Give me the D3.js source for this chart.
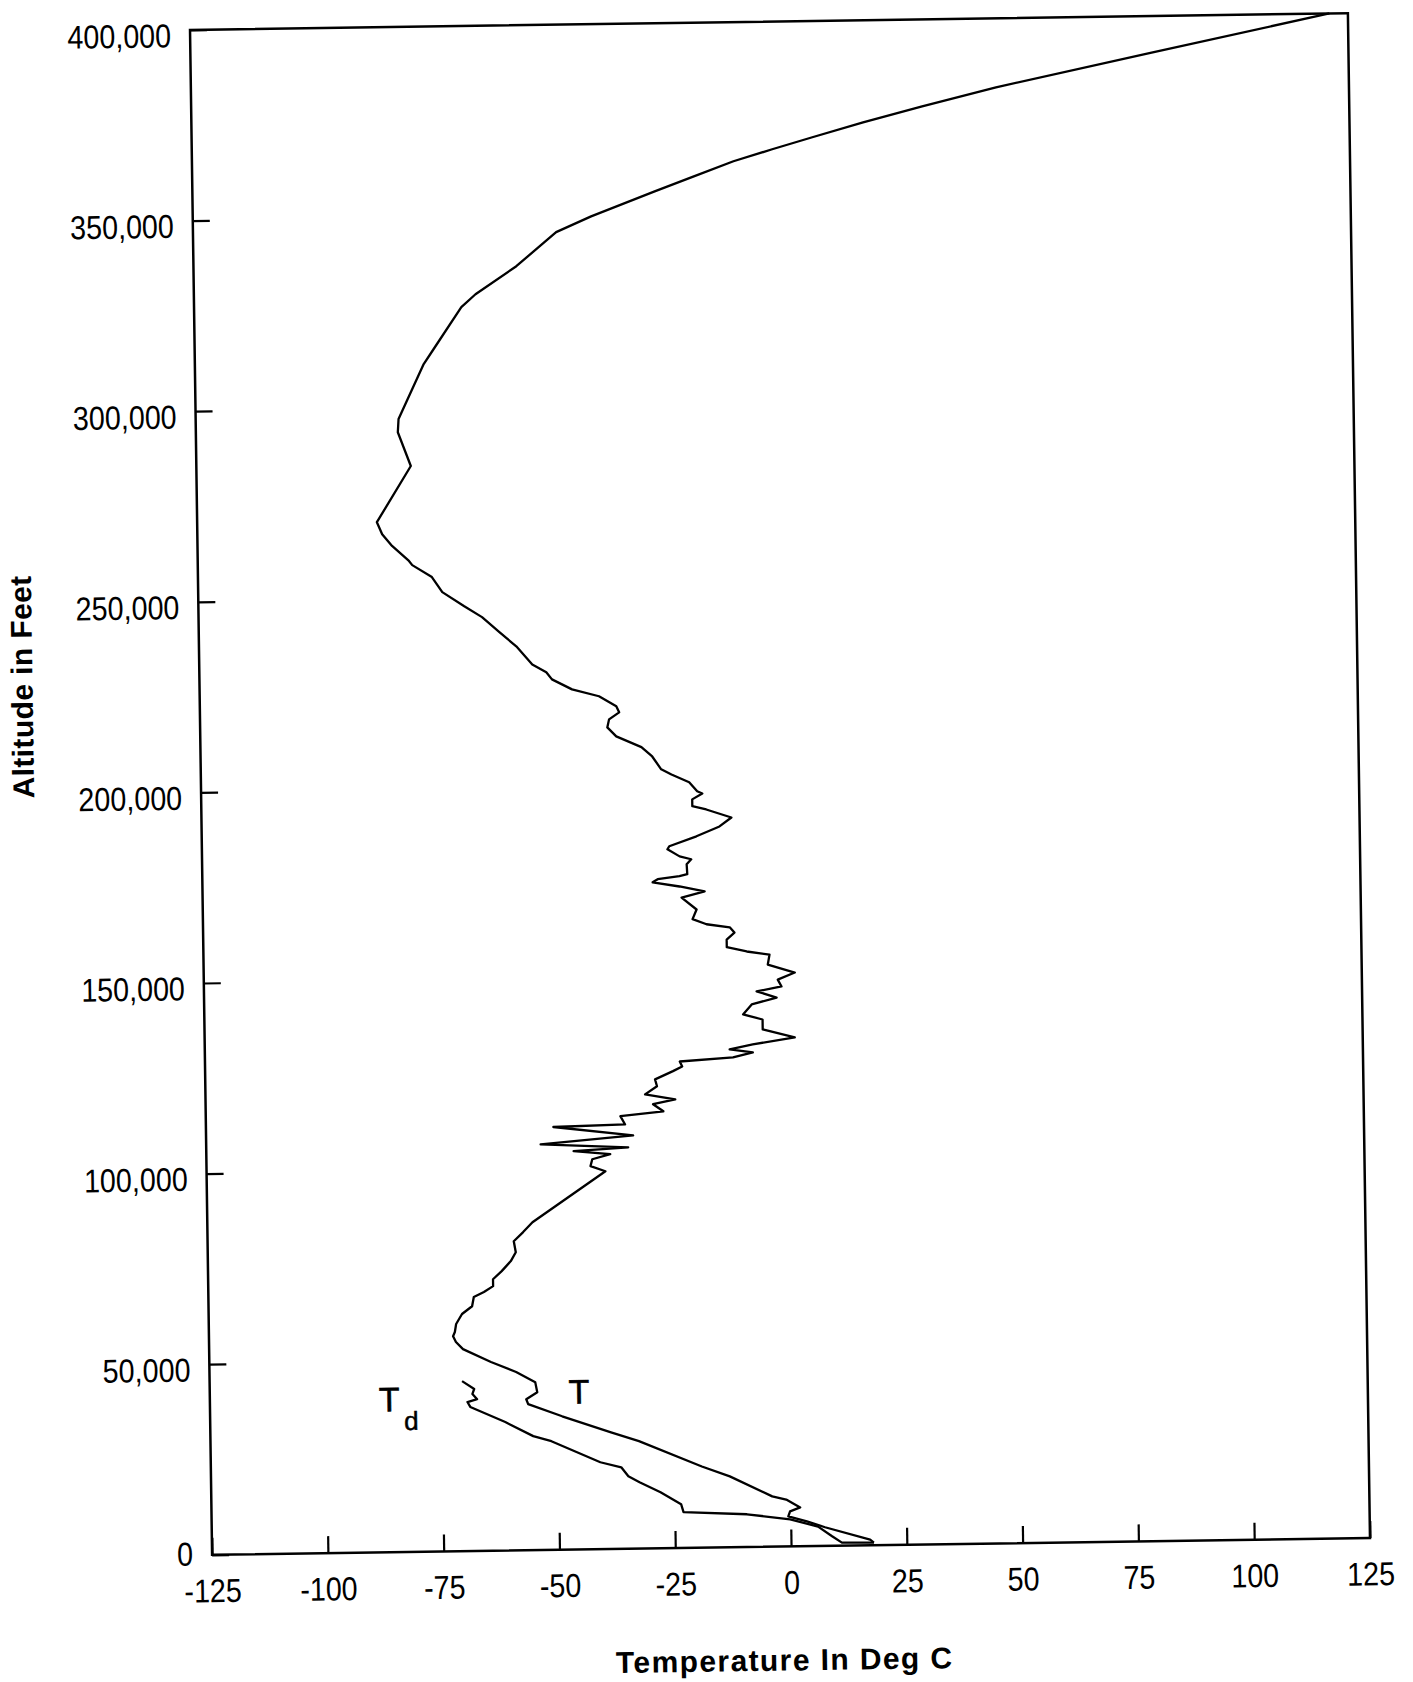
<!DOCTYPE html>
<html>
<head>
<meta charset="utf-8">
<script src="https://cdn.jsdelivr.net/npm/d3@7"></script>
<style>
  body { margin: 0; background: #fff; }
  svg { display: block; }
  .tick text { font-family: "Liberation Sans", Arial, sans-serif; font-size: 33px; fill: #000; }
  .tick line { stroke: #000; stroke-width: 2.2; }
  .title { font-family: "Liberation Sans", Arial, sans-serif; font-weight: bold; font-size: 30px; fill: #000; }
  .note { font-family: "Liberation Sans", Arial, sans-serif; fill: #000; }
</style>
</head>
<body>
<svg id="chart"></svg>
<script>
// sounding: [temperature deg C, altitude ft], surface upward
var temperature = [
  [17.9, 700], [17.1, 1500], [7.4, 4900], [3.5, 6500], [-0.5, 7900], [-0.1, 9200],
  [2.1, 10200], [-0.9, 12300], [-3.9, 13200], [-13.0, 18600], [-19.0, 21300],
  [-32.5, 28200], [-38.5, 30600], [-49.0, 35000], [-56.3, 38300], [-56.7, 39600],
  [-54.3, 41400], [-54.7, 44000], [-58.8, 46800], [-64.2, 49500], [-70.2, 53000],
  [-71.7, 54900], [-72.3, 56400], [-71.9, 57500], [-71.6, 59600], [-70.3, 62200],
  [-68.1, 64200], [-67.7, 66600], [-65.5, 67900], [-63.5, 69400], [-63.5, 71200],
  [-61.6, 73300], [-59.6, 75900], [-58.5, 78200], [-58.9, 81100], [-56.9, 83400],
  [-54.8, 86000], [-38.9, 99100], [-42.1, 100500], [-41.7, 102300], [-37.8, 103600],
  [-45.7, 104500], [-33.9, 105300], [-52.8, 106400], [-32.8, 108400], [-50.0, 110900],
  [-34.5, 111300], [-35.5, 113500], [-26.2, 114600], [-28.4, 116500], [-23.6, 117700],
  [-30.1, 119100], [-27.5, 121200], [-27.9, 123000], [-24.0, 125100], [-22.0, 126300],
  [-22.5, 127600], [-11.0, 128500], [-6.7, 129700], [-11.7, 130600], [-6.7, 131800],
  [2.4, 133500], [-4.5, 135700], [-4.5, 138300], [-8.7, 139700], [-6.8, 142300],
  [-1.4, 144000], [-5.7, 145700], [-0.3, 146900], [-1.1, 148700], [2.6, 150500],
  [-3.2, 152700], [-2.8, 155300], [-7.7, 156200], [-12.0, 157400], [-12.0, 159400],
  [-10.3, 161200], [-11.3, 162600], [-16.3, 163500], [-19.3, 164900], [-18.4, 167400],
  [-21.6, 170600], [-16.6, 172100], [-22.0, 173500], [-27.8, 174700], [-26.7, 175500],
  [-22.0, 176200], [-20.3, 176700], [-20.4, 179300], [-19.4, 180600], [-21.9, 181400],
  [-24.5, 183300], [-24.1, 184100], [-18.2, 186600], [-13.2, 189100], [-10.6, 191400],
  [-16.0, 193600], [-19.0, 194500], [-19.0, 196300], [-16.8, 197800], [-17.9, 198400],
  [-19.6, 200800], [-23.4, 202900], [-25.6, 204300], [-27.5, 207700], [-29.8, 210200],
  [-35.2, 213100], [-37.1, 215500], [-36.7, 217600], [-34.5, 219400], [-35.1, 221000],
  [-38.8, 223700], [-44.6, 225600], [-48.9, 228300], [-50.1, 230200], [-53.1, 232300],
  [-56.5, 237100], [-60.1, 240900], [-63.8, 244900], [-67.6, 247800], [-72.3, 251600],
  [-74.5, 255600], [-78.7, 258800], [-79.4, 259900], [-83.0, 263900], [-85.1, 267000],
  [-86.2, 270200], [-78.7, 284800], [-81.4, 293700], [-81.2, 297200], [-75.6, 311500],
  [-73.4, 315400], [-67.3, 326300], [-64.2, 329600], [-55.3, 336800], [-46.6, 345600],
  [-39.0, 349600], [-25.2, 355900], [-16.7, 359700], [-8.1, 363500], [0.3, 366500],
  [9.0, 369500], [20.0, 373200], [32.8, 377200], [48.8, 381900], [82.5, 390400],
  [121.0, 400000]
];

var dewpoint = [
  [17.9, 700], [11.0, 800], [8.9, 2500], [5.9, 5100], [-0.1, 7100], [-9.4, 8600],
  [-23.1, 9400], [-23.6, 11500], [-28.0, 14700], [-32.5, 17400], [-34.9, 19000],
  [-36.4, 21400], [-40.9, 22800], [-51.4, 28500], [-55.3, 29900], [-61.3, 33700],
  [-68.8, 37800], [-69.4, 39100], [-67.3, 39800], [-68.3, 41200], [-67.9, 42500],
  [-70.5, 44600]
];

var xTicks = [-125, -100, -75, -50, -25, 0, 25, 50, 75, 100, 125];
var yTicks = [0, 50000, 100000, 150000, 200000, 250000, 300000, 350000, 400000];

// hand-written curve labels: [text, temperature, altitude]
var curveLabels = [["T", -45.3, 41400], ["T", -86.3, 40100]];

(function() {
    var width = 1413, height = 1682;
    var box = { left: 201, top: 21.5, width: 1158, height: 1525 };
    var squeeze = 0.87; // the scan's digits are narrower than Liberation Sans

    var svg = d3.select("#chart")
        .attr("width", width)
        .attr("height", height);

    svg.append("rect")
        .attr("width", width)
        .attr("height", height)
        .attr("fill", "#fff");

    // the original is a slightly tilted scan
    var page = svg.append("g")
        .attr("transform", "rotate(-0.83, 780, 784)");

    var plot = page.append("g")
        .attr("transform", `translate(${box.left}, ${box.top})`);

    var xScale = d3.scaleLinear()
        .domain([-125, 125])
        .range([0, box.width]);

    var yScale = d3.scaleLinear()
        .domain([0, 400000])
        .range([box.height, 0]);

    // axes, ticks pointing inward
    var xAxis = plot.append("g")
        .attr("transform", `translate(0, ${box.height})`)
        .call(d3.axisBottom(xScale)
            .tickValues(xTicks)
            .tickSizeInner(-17)
            .tickSizeOuter(0)
            .tickPadding(24)
            .tickFormat(d => String(d)));
    xAxis.select(".domain").remove();
    xAxis.selectAll("text").attr("transform", `scale(${squeeze}, 1)`);

    var yAxis = plot.append("g")
        .call(d3.axisLeft(yScale)
            .tickValues(yTicks)
            .tickSizeInner(-17)
            .tickSizeOuter(0)
            .tickPadding(19)
            .tickFormat(d3.format(",")));
    yAxis.select(".domain").remove();
    yAxis.selectAll("text")
        .attr("x", -19 / squeeze)
        .attr("dy", d => d == 0 ? "0.3em" : "0.5em")
        .attr("transform", `scale(${squeeze}, 1)`);

    // frame
    plot.append("rect")
        .attr("width", box.width)
        .attr("height", box.height)
        .attr("fill", "none")
        .attr("stroke", "#000")
        .attr("stroke-width", 2.5);

    var line = d3.line()
        .x(d => xScale(d[0]))
        .y(d => yScale(d[1]));

    plot.append("path")
        .datum(temperature)
        .attr("d", line)
        .attr("fill", "none")
        .attr("stroke", "#000")
        .attr("stroke-width", 2.3)
        .attr("stroke-linejoin", "round");

    plot.append("path")
        .datum(dewpoint)
        .attr("d", line)
        .attr("fill", "none")
        .attr("stroke", "#000")
        .attr("stroke-width", 2.3)
        .attr("stroke-linejoin", "round");

    // curve labels
    curveLabels.forEach(function(c, i) {
        plot.append("text")
            .attr("class", "note")
            .attr("x", xScale(c[1]))
            .attr("y", yScale(c[2]))
            .attr("dominant-baseline", "central")
            .attr("text-anchor", "middle")
            .style("font-size", "34px")
            .style("stroke", "#000")
            .style("stroke-width", 0.6)
            .text(c[0]);
        if (i == 1) {
            plot.append("text")
                .attr("class", "note")
                .attr("x", xScale(c[1]) + 22)
                .attr("y", yScale(c[2]) + 22)
                .attr("dominant-baseline", "central")
                .attr("text-anchor", "middle")
                .style("font-size", "26px")
                .style("stroke", "#000")
                .style("stroke-width", 0.5)
                .text("d");
        }
    });

    // axis titles
    plot.append("text")
        .attr("class", "title")
        .attr("x", box.width / 2 - 8)
        .attr("y", box.height + 124)
        .attr("text-anchor", "middle")
        .style("letter-spacing", "1.4px")
        .text("Temperature In Deg C");

    page.append("text")
        .attr("class", "title")
        .attr("transform", "translate(34, 676) rotate(-90)")
        .attr("text-anchor", "middle")
        .style("letter-spacing", "0.4px")
        .text("Altitude in Feet");
})();
</script>
</body>
</html>
